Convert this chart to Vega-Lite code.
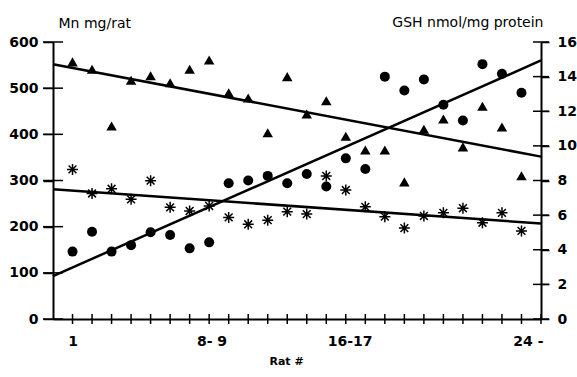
{
  "$schema": "https://vega.github.io/schema/vega-lite/v6.json",
  "width": 488,
  "height": 277,
  "autosize": {"type": "none"},
  "padding": {"left": 53, "top": 42, "right": 36, "bottom": 58},
  "background": "white",
  "config": {
    "view": {"stroke": null},
    "axis": {
      "grid": false,
      "domainColor": "black",
      "domainWidth": 2,
      "tickColor": "black",
      "tickWidth": 1.5,
      "labelColor": "black",
      "titleColor": "black",
      "labelFont": "DejaVu Sans",
      "titleFont": "DejaVu Sans",
      "labelFontWeight": "bold",
      "labelFontSize": 14
    }
  },
  "datasets": {
    "mn": [
      {"rat": 1, "mn": 146}, {"rat": 2, "mn": 189}, {"rat": 3, "mn": 146}, {"rat": 4, "mn": 160},
      {"rat": 5, "mn": 188}, {"rat": 6, "mn": 182}, {"rat": 7, "mn": 153}, {"rat": 8, "mn": 166},
      {"rat": 9, "mn": 294}, {"rat": 10, "mn": 300}, {"rat": 11, "mn": 310}, {"rat": 12, "mn": 294},
      {"rat": 13, "mn": 314}, {"rat": 14, "mn": 287}, {"rat": 15, "mn": 348}, {"rat": 16, "mn": 325},
      {"rat": 17, "mn": 525}, {"rat": 18, "mn": 495}, {"rat": 19, "mn": 519}, {"rat": 20, "mn": 464},
      {"rat": 21, "mn": 430}, {"rat": 22, "mn": 552}, {"rat": 23, "mn": 531}, {"rat": 24, "mn": 490}
    ],
    "gsh": [
      {"rat": 1, "a": 14.85, "b": 8.64}, {"rat": 2, "a": 14.43, "b": 7.25}, {"rat": 3, "a": 11.15, "b": 7.52},
      {"rat": 4, "a": 13.79, "b": 6.91}, {"rat": 5, "a": 14.05, "b": 7.99}, {"rat": 6, "a": 13.65, "b": 6.45},
      {"rat": 7, "a": 14.43, "b": 6.24}, {"rat": 8, "a": 14.96, "b": 6.53}, {"rat": 9, "a": 13.07, "b": 5.87},
      {"rat": 10, "a": 12.77, "b": 5.47}, {"rat": 11, "a": 10.76, "b": 5.71}, {"rat": 12, "a": 14.0, "b": 6.2},
      {"rat": 13, "a": 11.84, "b": 6.06}, {"rat": 14, "a": 12.61, "b": 8.26}, {"rat": 15, "a": 10.56, "b": 7.45},
      {"rat": 16, "a": 9.76, "b": 6.48}, {"rat": 17, "a": 9.76, "b": 5.91}, {"rat": 18, "a": 7.92, "b": 5.25},
      {"rat": 19, "a": 10.96, "b": 5.95}, {"rat": 20, "a": 11.55, "b": 6.13}, {"rat": 21, "a": 9.94, "b": 6.4},
      {"rat": 22, "a": 12.29, "b": 5.56}, {"rat": 23, "a": 11.09, "b": 6.13}, {"rat": 24, "a": 8.27, "b": 5.09}
    ],
    "mnfit": [{"rat": 0, "mn": 93}, {"rat": 25, "mn": 560}],
    "gshfit": [{"rat": 0, "a": 14.72, "b": 7.49}, {"rat": 25, "a": 9.38, "b": 5.52}],
    "xticks": [
      {"rat": 1}, {"rat": 2}, {"rat": 3}, {"rat": 4}, {"rat": 5}, {"rat": 6}, {"rat": 7}, {"rat": 8},
      {"rat": 9}, {"rat": 10}, {"rat": 11}, {"rat": 12}, {"rat": 13}, {"rat": 14}, {"rat": 15}, {"rat": 16},
      {"rat": 17}, {"rat": 18}, {"rat": 19}, {"rat": 20}, {"rat": 21}, {"rat": 22}, {"rat": 23}, {"rat": 24}, {"rat": 25}
    ],
    "mnticks": [{"mn": 0}, {"mn": 100}, {"mn": 200}, {"mn": 300}, {"mn": 400}, {"mn": 500}, {"mn": 600}],
    "gshticks": [{"a": 0}, {"a": 2}, {"a": 4}, {"a": 6}, {"a": 8}, {"a": 10}, {"a": 12}, {"a": 14}, {"a": 16}]
  },
  "layer": [
    {
      "data": {"name": "mn"},
      "mark": {"type": "point", "shape": "circle", "filled": true, "color": "black", "size": 100, "opacity": 1, "strokeWidth": 0},
      "encoding": {
        "x": {
          "field": "rat", "type": "quantitative",
          "scale": {"domain": [0, 25], "nice": false, "zero": false},
          "axis": {
            "orient": "bottom",
            "values": [1, 8.12, 15.2, 24.33],
            "ticks": false, "tickSize": 0,
            "labelExpr": "datum.value < 2 ? '1' : datum.value < 9 ? '8- 9' : datum.value < 16 ? '16-17' : '24 -'",
            "labelBaseline": "alphabetic",
            "labelPadding": 26,
            "labelOverlap": false, "labelBound": false, "labelFlush": false,
            "title": "Rat #",
            "titleFontSize": 11, "titleFontWeight": "bold",
            "titleX": 233, "titleY": 45, "titleAlign": "center", "titleBaseline": "alphabetic"
          }
        },
        "y": {
          "field": "mn", "type": "quantitative",
          "scale": {"domain": [0, 600], "nice": false},
          "axis": {
            "orient": "left",
            "values": [0, 100, 200, 300, 400, 500, 600],
            "ticks": true, "tickSize": 10,
            "labelPadding": 5,
            "labelBaseline": "middle",
            "title": "Mn mg/rat",
            "titleAngle": 0, "titleFontSize": 14, "titleFontWeight": "normal",
            "titleAlign": "left", "titleBaseline": "alphabetic",
            "titleX": 5, "titleY": -15
          }
        }
      }
    },
    {
      "data": {"name": "mnfit"},
      "mark": {"type": "line", "color": "black", "strokeWidth": 2.5},
      "encoding": {
        "x": {"field": "rat", "type": "quantitative", "scale": {"domain": [0, 25], "nice": false, "zero": false}, "axis": null},
        "y": {"field": "mn", "type": "quantitative", "scale": {"domain": [0, 600], "nice": false}, "axis": null}
      }
    },
    {
      "data": {"name": "gsh"},
      "mark": {"type": "point", "shape": "triangle-up", "filled": true, "color": "black", "size": 110, "opacity": 1, "strokeWidth": 0},
      "encoding": {
        "x": {"field": "rat", "type": "quantitative", "scale": {"domain": [0, 25], "nice": false, "zero": false}, "axis": null},
        "y": {
          "field": "a", "type": "quantitative",
          "scale": {"domain": [0, 16], "nice": false},
          "axis": {
            "orient": "right",
            "values": [0, 2, 4, 6, 8, 10, 12, 14, 16],
            "ticks": true, "tickSize": 8,
            "labelPadding": 8,
            "labelBaseline": "middle",
            "title": "GSH nmol/mg protein",
            "titleAngle": 0, "titleFontSize": 14, "titleFontWeight": "normal",
            "titleAlign": "right", "titleBaseline": "alphabetic",
            "titleX": 2, "titleY": -16
          }
        }
      }
    },
    {
      "data": {"name": "gsh"},
      "mark": {
        "type": "point",
        "shape": "M-1,0L1,0M0,-1L0,1M-0.71,-0.71L0.71,0.71M-0.71,0.71L0.71,-0.71",
        "filled": false, "stroke": "black", "strokeWidth": 1.5, "size": 121, "opacity": 1
      },
      "encoding": {
        "x": {"field": "rat", "type": "quantitative", "scale": {"domain": [0, 25], "nice": false, "zero": false}, "axis": null},
        "y": {"field": "b", "type": "quantitative", "scale": {"domain": [0, 16], "nice": false}, "axis": null}
      }
    },
    {
      "data": {"name": "gshfit"},
      "mark": {"type": "line", "color": "black", "strokeWidth": 2.5},
      "encoding": {
        "x": {"field": "rat", "type": "quantitative", "scale": {"domain": [0, 25], "nice": false, "zero": false}, "axis": null},
        "y": {"field": "a", "type": "quantitative", "scale": {"domain": [0, 16], "nice": false}, "axis": null}
      }
    },
    {
      "data": {"name": "gshfit"},
      "mark": {"type": "line", "color": "black", "strokeWidth": 2.5},
      "encoding": {
        "x": {"field": "rat", "type": "quantitative", "scale": {"domain": [0, 25], "nice": false, "zero": false}, "axis": null},
        "y": {"field": "b", "type": "quantitative", "scale": {"domain": [0, 16], "nice": false}, "axis": null}
      }
    },
    {
      "data": {"name": "xticks"},
      "mark": {"type": "tick", "orient": "vertical", "color": "black", "size": 10, "thickness": 1.5, "opacity": 1},
      "encoding": {
        "x": {"field": "rat", "type": "quantitative", "scale": {"domain": [0, 25], "nice": false, "zero": false}, "axis": null},
        "y": {"datum": 0, "type": "quantitative", "scale": {"domain": [0, 600], "nice": false}, "axis": null}
      }
    },
    {
      "data": {"name": "mnticks"},
      "mark": {"type": "tick", "orient": "horizontal", "color": "black", "size": 20, "thickness": 1.5, "opacity": 1},
      "encoding": {
        "x": {"datum": 0, "type": "quantitative", "scale": {"domain": [0, 25], "nice": false, "zero": false}, "axis": null},
        "y": {"field": "mn", "type": "quantitative", "scale": {"domain": [0, 600], "nice": false}, "axis": null}
      }
    },
    {
      "data": {"name": "gshticks"},
      "mark": {"type": "tick", "orient": "horizontal", "color": "black", "size": 16, "thickness": 1.5, "opacity": 1},
      "encoding": {
        "x": {"datum": 25, "type": "quantitative", "scale": {"domain": [0, 25], "nice": false, "zero": false}, "axis": null},
        "y": {"field": "a", "type": "quantitative", "scale": {"domain": [0, 16], "nice": false}, "axis": null}
      }
    }
  ],
  "resolve": {
    "scale": {"y": "independent"},
    "axis": {"x": "independent", "y": "independent"}
  }
}
